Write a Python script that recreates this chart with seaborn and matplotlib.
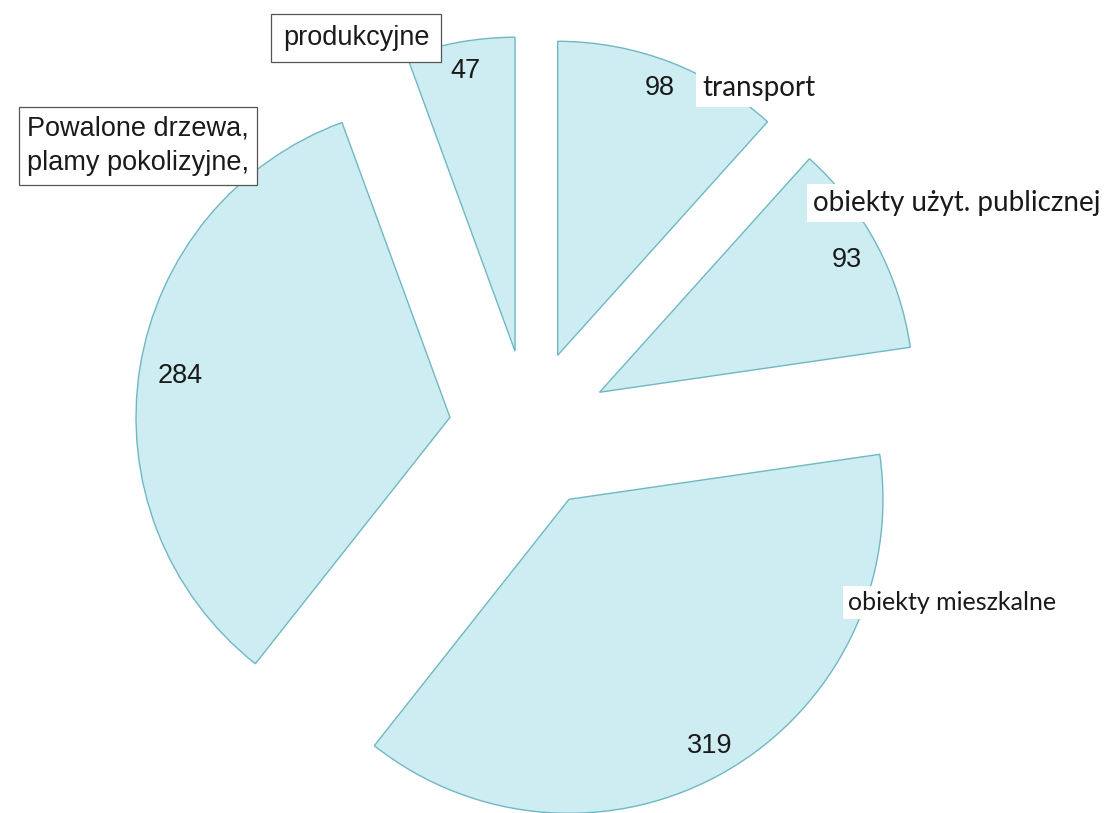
import matplotlib
matplotlib.use("Agg")
import matplotlib.pyplot as plt
import seaborn as sns

categories = ["transport", "obiekty użyt. publicznej", "obiekty mieszkalne",
              "Powalone drzewa,\nplamy pokolizyjne,", "produkcyjne"]
values = [98, 93, 319, 284, 47]
value_labels = ["98", "93", "319", "284", "47"]

sns.set_theme(style="white")
plt.rcParams['font.family'] = ['Liberation Sans', 'DejaVu Sans']

W, H = 1107, 813
fig = plt.figure(figsize=(W / 100, H / 100), dpi=100)
fig.patch.set_facecolor("white")
ax = fig.add_axes([0, 0, 1, 1])

R = 314.0
cx, cy = 529.0, 430.0

fill = "#cdedf2"
ax.pie(values, startangle=90, counterclock=False, radius=1.0,
       explode=[80 / R] * len(values), colors=[fill] * len(values),
       wedgeprops=dict(edgecolor="#6fb8c3", linewidth=1.0))

ax.set_xlim(-cx / R, (W - cx) / R)
ax.set_ylim(-(H - cy) / R, cy / R)
ax.set_aspect("auto")
ax.axis("off")

def fx(px):
    return px / W

def fy(py):
    return 1 - py / H

# numeric labels
num_pos = [(660, 88), (847, 260), (710, 746), (180, 376), (465, 71)]
for (px, py), t in zip(num_pos, value_labels):
    fig.text(fx(px), fy(py), t, ha="center", va="center", fontsize=19.5,
             color="#1a1a1a", family=["Liberation Sans"])

# boxed labels (Arial-like)
fig.text(fx(356), fy(38), categories[4], ha="center", va="center", fontsize=19.5,
         color="#1a1a1a", family=["Liberation Sans"],
         bbox=dict(boxstyle="square,pad=0.42", fc="white", ec="#555555", lw=0.9))
fig.text(fx(138), fy(146), categories[3], ha="center", va="center", fontsize=19.5,
         color="#1a1a1a", family=["Liberation Sans"], multialignment="left",
         linespacing=1.45,
         bbox=dict(boxstyle="square,pad=0.3", fc="white", ec="#555555", lw=0.9))

# plain labels (Calibri-like) on white background
lab_pos = [(702, 88), (813, 203), (848, 603)]
lab_size = [20, 20, 18]
for (px, py), t, s in zip(lab_pos, categories[:3], lab_size):
    fig.text(fx(px), fy(py), t, ha="left", va="center", fontsize=s,
             color="#1a1a1a", family=["Lato", "DejaVu Sans"],
             bbox=dict(boxstyle="square,pad=0.2", fc="white", ec="none"))

fig.savefig("out.png", dpi=100, facecolor="white")
